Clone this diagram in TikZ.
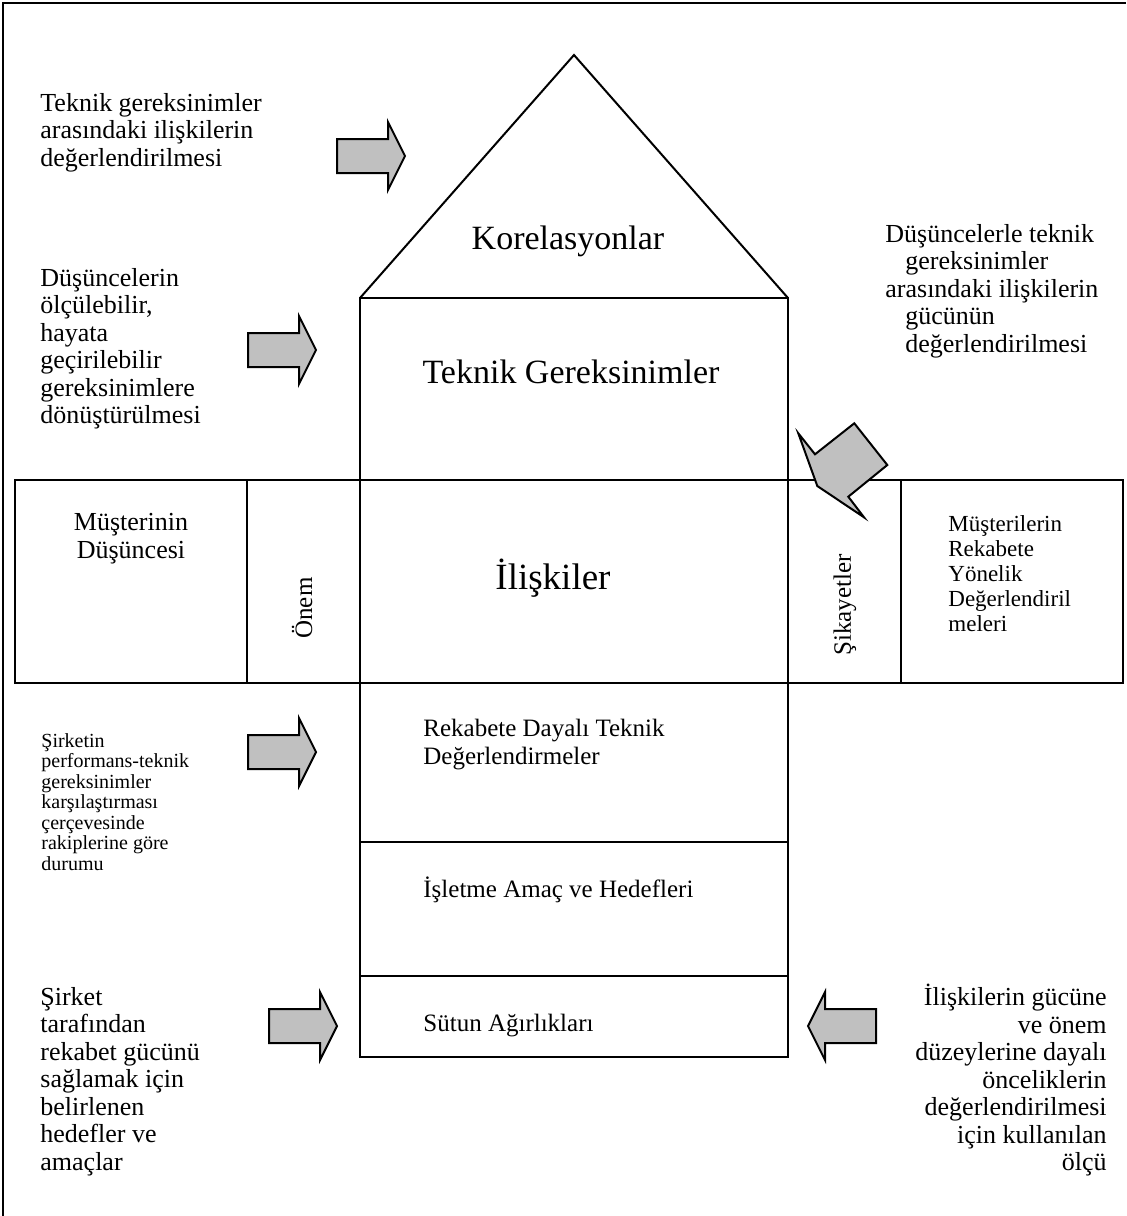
\documentclass[tikz,border=0pt]{standalone}
\usepackage{fontspec}
\setmainfont{Liberation Serif}
\definecolor{arrowgray}{HTML}{C0C0C0}
\begin{document}
\begin{tikzpicture}[x=0.5pt,y=-0.5pt,
  box/.style={line width=1pt, line join=miter},
  frameline/.style={line width=1.2pt},
  blk/.style={draw=black, fill=arrowgray, line width=1pt, line join=miter},
  body/.style={inner sep=0pt, align=left, font=\fontsize{13pt}{13.75pt}\selectfont},
  inner/.style={inner sep=0pt, align=left, font=\fontsize{12.5pt}{13.75pt}\selectfont},
  small/.style={inner sep=0pt, align=left, font=\fontsize{10pt}{10.25pt}\selectfont},
  cell/.style={inner sep=0pt, font=\fontsize{11.5pt}{12.5pt}\selectfont},
  big/.style={inner sep=0pt, font=\fontsize{17pt}{20pt}\selectfont},
  vert/.style={inner sep=0pt, rotate=90, font=\fontsize{12.5pt}{14pt}\selectfont},
  rightblock/.pic={\path[blk] (0,0) -- (-17,-34) -- (-17,-17) -- (-68,-17)
      -- (-68,17) -- (-17,17) -- (-17,34) -- cycle;}
]
\useasboundingbox (0,0) rectangle (1126,1216);
% page frame (top and left edges)
\draw[frameline] (3,1216) -- (3,3) -- (1126,3);

% roof and column of the house
\draw[box] (360,298) -- (574,55) -- (788,298);
\draw[box] (360,298) rectangle (788,480);
\draw[box] (15,480) rectangle (1123,683);
\draw[box] (247,480) -- (247,683);
\draw[box] (360,480) -- (360,683);
\draw[box] (788,480) -- (788,683);
\draw[box] (901,480) -- (901,683);
\draw[box] (360,683) rectangle (788,842);
\draw[box] (360,842) rectangle (788,976);
\draw[box] (360,976) rectangle (788,1057);

% labels inside the house
\node[big] (kor) at (568,249) [anchor=base] {Korelasyonlar};
\node[big] (tek) at (571,383) [anchor=base] {Teknik Gereksinimler};
\node[inner sep=0pt, font=\fontsize{18.5pt}{20pt}\selectfont] (ili) at (553,589) [anchor=base] {İlişkiler};
\node[body, align=center, anchor=north] (mus) at (131,513) {Müşterinin\\Düşüncesi};
\node[vert] (onem) at (302,608) {Önem};
\node[vert] (sik) at (845,605) {Şikayetler};
\node[cell, align=left, anchor=north west] (rek) at (948,515) {Müşterilerin\\Rekabete\\Yönelik\\Değerlendiril\\meleri};
\node[inner, anchor=north west] (rtd) at (423,719) {Rekabete Dayalı Teknik\\Değerlendirmeler};
\node[inner, anchor=base west] (isl) at (423,897) {İşletme Amaç ve Hedefleri};
\node[inner, anchor=base west] (sut) at (423,1031) {Sütun Ağırlıkları};

% side notes
\node[body, anchor=north west] (n1) at (40,93) {Teknik gereksinimler\\arasındaki ilişkilerin\\değerlendirilmesi};
\node[body, anchor=north west] (n2) at (40,268) {Düşüncelerin\\ölçülebilir,\\hayata\\geçirilebilir\\gereksinimlere\\dönüştürülmesi};
\node[body, anchor=north west] (n3) at (885,224) {Düşüncelerle teknik\\\hspace*{10pt}gereksinimler\\arasındaki ilişkilerin\\\hspace*{10pt}gücünün\\\hspace*{10pt}değerlendirilmesi};
\node[small, anchor=north west] (n4) at (41,733) {Şirketin\\performans-teknik\\gereksinimler\\karşılaştırması\\çerçevesinde\\rakiplerine göre\\durumu};
\node[body, anchor=north west] (n5) at (40,987) {Şirket\\tarafından\\rekabet gücünü\\sağlamak için\\belirlenen\\hedefler ve\\amaçlar};
\node[body, align=right, anchor=north east] (n6) at (1107,984) {İlişkilerin gücüne\\ve önem\\düzeylerine dayalı\\önceliklerin\\değerlendirilmesi\\için kullanılan\\ölçü};

% block arrows
\pic at (405,156) {rightblock};
\pic at (316,350) {rightblock};
\pic at (316,752) {rightblock};
\pic at (337,1026) {rightblock};
\pic[xscale=-1] at (808,1026) {rightblock};
\path[blk] (817.3,486) -- (798.3,433.3) -- (815,454.3) -- (854.3,423.3)
  -- (887.3,465) -- (848.3,496.7) -- (864,517.3) -- cycle;
\end{tikzpicture}
\end{document}
